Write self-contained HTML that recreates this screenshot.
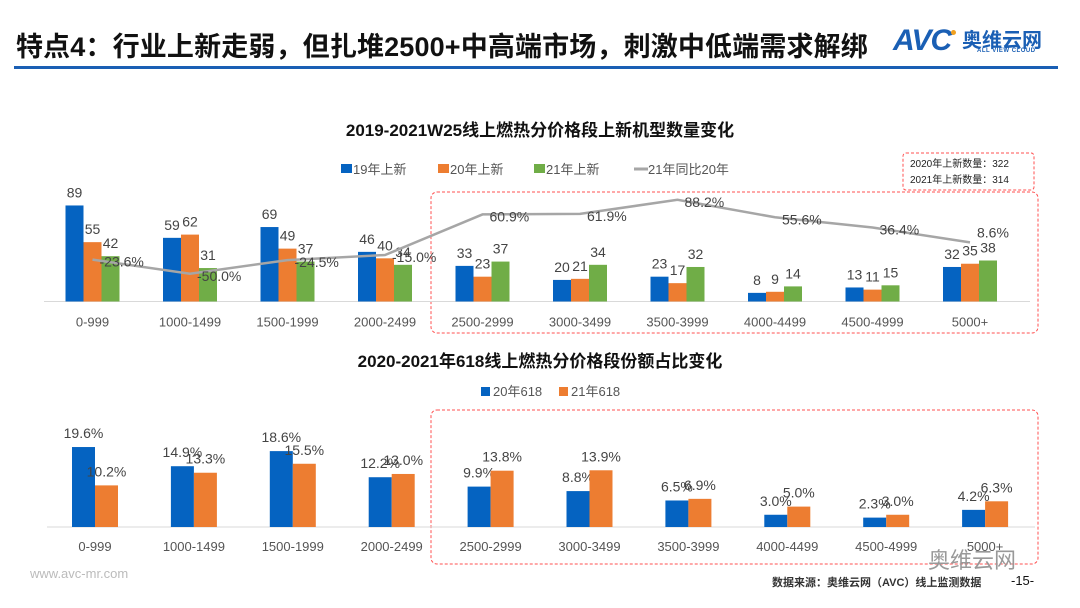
<!DOCTYPE html>
<html><head><meta charset="utf-8">
<style>
body{margin:0;width:1080px;height:608px;background:#fff;overflow:hidden;font-family:"Liberation Sans","Noto Sans CJK SC",sans-serif;position:relative}
.t{position:absolute;white-space:nowrap}
</style></head><body>
<div class="t" style="left:16px;top:25px;font-size:27px;font-weight:bold;color:#111;letter-spacing:0.15px">特点4：行业上新走弱，但扎堆2500+中高端市场，刺激中低端需求解绑</div>
<div style="position:absolute;left:14px;top:66px;width:1044px;height:3px;background:#1a5fb4"></div>
<div class="t" style="left:893px;top:24px;font-size:30px;font-weight:bold;font-style:italic;color:#1a5fb4;letter-spacing:-1px">AVC</div>
<div class="t" style="left:951px;top:30px;width:5px;height:5px;border-radius:50%;background:#f0a020"></div>
<div class="t" style="left:962px;top:24px;font-size:20px;font-weight:bold;color:#1a5fb4">奥维云网</div>
<div class="t" style="left:977px;top:48px;font-size:6px;font-weight:bold;color:#1a5fb4;letter-spacing:0.5px">ALL VIEW CLOUD</div>
<svg id="s" width="1080" height="608" style="position:absolute;left:0;top:0"></svg>
<div class="t" style="left:30px;top:566px;font-size:13px;color:#bbb">www.avc-mr.com</div>
<div class="t" style="left:772px;top:574px;font-size:11px;font-weight:bold;color:#333">数据来源：奥维云网（AVC）线上监测数据</div>
<div class="t" style="left:1011px;top:573px;font-size:13px;color:#111">-15-</div>
<div class="t" style="left:928px;top:543px;font-size:22px;color:#999">奥维云网</div>
<script>
const cats=["0-999","1000-1499","1500-1999","2000-2499","2500-2999","3000-3499","3500-3999","4000-4499","4500-4999","5000+"];
const s19=[89,59,69,46,33,20,23,8,13,32];
const s20=[55,62,49,40,23,21,17,9,11,35];
const s21=[42,31,37,34,37,34,32,14,15,38];
const yoy=[-23.6,-50.0,-24.5,-15.0,60.9,61.9,88.2,55.6,36.4,8.6];
const share20=[19.6,14.9,18.6,12.2,9.9,8.8,6.5,3.0,2.3,4.2];
const share21=[10.2,13.3,15.5,13.0,13.8,13.9,6.9,5.0,3.0,6.3];
const NS="http://www.w3.org/2000/svg";
const svg=document.getElementById('s');
function el(tag,a,txt){const e=document.createElementNS(NS,tag);for(const k in a)e.setAttribute(k,a[k]);if(txt!==undefined)e.textContent=txt;svg.appendChild(e);return e;}
const C1={x0:92.5,dx:97.5,base:301.5,k:1.079,bw:18};
const C2={x0:95,dx:98.9,base:527,k:4.08,bw:23};
const cx1=i=>C1.x0+i*C1.dx, y1=v=>C1.base-v*C1.k;
const ly=v=>247-v*0.535;
const cx2=i=>C2.x0+i*C2.dx, y2=v=>C2.base-v*C2.k;
const FONT='"Liberation Sans","Noto Sans CJK SC",sans-serif';
let e;
e=el('text',{x:540,y:136,'text-anchor':'middle','font-size':17,'font-weight':'bold',fill:'#111','font-family':FONT},'2019-2021W25线上燃热分价格段上新机型数量变化');

e=el('text',{x:540,y:367,'text-anchor':'middle','font-size':17,'font-weight':'bold',fill:'#111','font-family':FONT},'2020-2021年618线上燃热分价格段份额占比变化');

const lg1=[['#0563c1','19年上新',341],['#ed7d31','20年上新',438],['#70ad47','21年上新',534]];
lg1.forEach(l=>{e=el('rect',{x:l[2],y:164,width:11,height:9,fill:l[0]});
e=el('text',{x:l[2]+12,y:174,'font-size':13,fill:'#555','font-family':FONT},l[1]);});
e=el('line',{x1:634,y1:169,x2:648,y2:169,stroke:'#a6a6a6','stroke-width':3});
e=el('text',{x:648,y:174,'font-size':13,fill:'#555','font-family':FONT},'21年同比20年');
e=el('rect',{x:481,y:387,width:9,height:9,fill:'#0563c1'});
e=el('text',{x:493,y:396,'font-size':13,fill:'#555','font-family':FONT},'20年618');
e=el('rect',{x:559,y:387,width:9,height:9,fill:'#ed7d31'});
e=el('text',{x:571,y:396,'font-size':13,fill:'#555','font-family':FONT},'21年618');
e=el('rect',{x:903,y:153,width:131,height:37,fill:'none',stroke:'#ff5050','stroke-dasharray':'3,2',rx:3});
e=el('text',{x:910,y:167,'font-size':10,fill:'#222','font-family':FONT},'2020年上新数量：322');
e=el('text',{x:910,y:183,'font-size':10,fill:'#222','font-family':FONT},'2021年上新数量：314');
e=el('rect',{x:431,y:192,width:607,height:141,fill:'none',stroke:'#ff5050','stroke-dasharray':'3,2',rx:6});
e=el('rect',{x:431,y:410,width:607,height:154,fill:'none',stroke:'#ff5050','stroke-dasharray':'3,2',rx:6});
e=el('line',{x1:44,y1:C1.base,x2:1030,y2:C1.base,stroke:'#d9d9d9','stroke-width':1});
e=el('line',{x1:47,y1:C2.base,x2:1035,y2:C2.base,stroke:'#d9d9d9','stroke-width':1});
const ser=[[s19,'#0563c1','bar-19'],[s20,'#ed7d31','bar-20'],[s21,'#70ad47','bar-21']];
cats.forEach((c,i)=>{
  ser.forEach((s,j)=>{
    const x=cx1(i)+(j-1.5)*C1.bw, v=s[0][i];
    e=el('rect',{x:x,y:y1(v),width:C1.bw,height:v*C1.k,fill:s[1]});
    
    e=el('text',{x:x+C1.bw/2,y:y1(v)-8,'text-anchor':'middle','font-size':14,fill:'#444','font-family':FONT},v);
    
  });
  e=el('text',{x:cx1(i),y:C1.base+25,'text-anchor':'middle','font-size':13,fill:'#555','font-family':FONT},c);
  
});
e=el('polyline',{points:yoy.map((v,i)=>cx1(i)+','+ly(v)).join(' '),fill:'none',stroke:'#a6a6a6','stroke-width':2.5});

yoy.forEach((v,i)=>{
  e=el('text',{x:cx1(i)+7,y:ly(v)+(i==9?-5:7),'font-size':14,fill:'#444','font-family':FONT},v.toFixed(1)+'%');
  
});
cats.forEach((c,i)=>{
  [[share20,'#0563c1','bar-share-20',-1],[share21,'#ed7d31','bar-share-21',0]].forEach(s=>{
    const x=cx2(i)+s[3]*C2.bw, v=s[0][i];
    e=el('rect',{x:x,y:y2(v),width:C2.bw,height:v*C2.k,fill:s[1]});
    
    e=el('text',{x:x+C2.bw/2,y:y2(v)-9,'text-anchor':'middle','font-size':14,fill:'#444','font-family':FONT},v.toFixed(1)+'%');
    
  });
  e=el('text',{x:cx2(i),y:C2.base+24,'text-anchor':'middle','font-size':13,fill:'#555','font-family':FONT},c);
  
});
</script>
</body></html>
